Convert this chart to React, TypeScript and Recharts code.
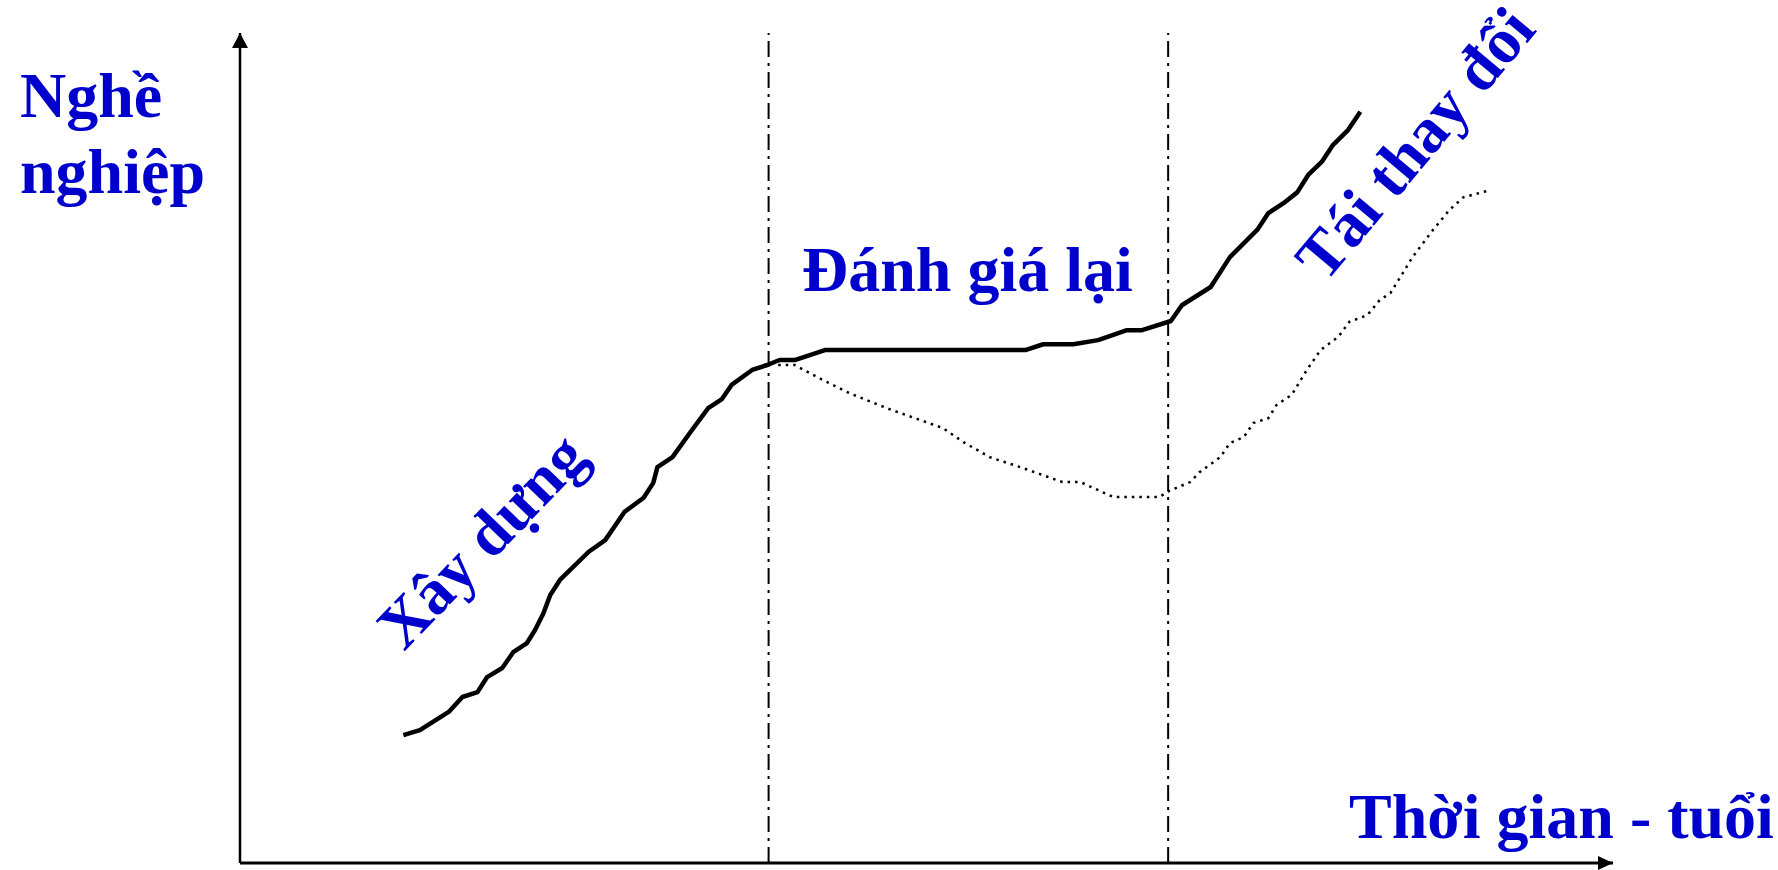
import { LineChart, Line, XAxis, YAxis, ReferenceLine, ReferenceDot } from "recharts";

// career path, "building" -> "re-evaluating" -> "re-changing"
const careerX = [
  11.9, 13.1, 15.2, 16.2, 17.3, 18.0, 19.1, 19.9, 20.9, 21.5, 22.1, 22.6, 23.3,
  25.4, 26.6, 28.0, 29.4, 30.1, 30.4, 31.5, 32.8, 34.1, 35.1, 35.8, 37.3, 38.4,
  39.3, 40.4, 42.6, 57.2, 58.5, 60.7, 62.5, 64.6, 65.7, 67.8, 68.6, 70.7, 72.1,
  74.1, 74.9, 76.0, 77.0, 77.8, 78.8, 79.6, 80.7, 81.6,
];
const careerY = [
  15.4, 16.0, 18.2, 20.0, 20.6, 22.4, 23.5, 25.4, 26.5, 28.1, 30.1, 32.3, 34.1,
  37.5, 38.9, 42.3, 44.0, 45.8, 47.7, 48.9, 51.9, 54.8, 55.9, 57.6, 59.4, 60.0,
  60.6, 60.6, 61.8, 61.8, 62.5, 62.5, 63.0, 64.2, 64.2, 65.3, 67.2, 69.4, 73.0,
  76.3, 78.3, 79.5, 80.8, 82.9, 84.5, 86.5, 88.3, 90.5,
];

// alternative path (dotted) after the first divider
const altX = [
  39.2, 40.4, 42.2, 44.4, 47.1, 51.2, 52.7, 54.6, 57.0, 59.9, 61.2, 63.6, 67.0,
  67.5, 69.2, 69.9, 71.4, 72.1, 73.1, 73.8, 74.9, 75.5, 76.6, 77.7, 78.7, 80.0,
  80.8, 82.1, 83.0, 83.8, 84.7, 85.4, 86.9, 88.1, 89.1, 90.9,
];
const altY = [
  60.0, 60.0, 58.4, 56.6, 54.8, 52.4, 50.7, 48.9, 47.6, 45.9, 45.9, 44.1, 44.1,
  44.7, 45.9, 47.1, 48.9, 50.6, 51.3, 53.0, 53.6, 55.2, 56.4, 59.4, 61.8, 63.4,
  65.2, 66.0, 67.8, 68.7, 71.1, 73.0, 76.3, 78.7, 80.2, 81.0,
];

const stageDividers = [38.5, 67.6];

const careerData = careerX.map((x, i) => ({ x, y: careerY[i] }));
const altData = altX.map((x, i) => ({ x, y: altY[i] }));

const blue = "#0000CC";
const font = "'Liberation Serif', 'Times New Roman', serif";

function ArrowUp(props: any) {
  const { cx, cy } = props;
  return <path d={`M${cx},${cy} L${cx - 8},${cy + 15} L${cx + 8},${cy + 15} Z`} fill="#000" />;
}

function ArrowRight(props: any) {
  const { cx, cy } = props;
  return <path d={`M${cx},${cy} L${cx - 15},${cy - 7} L${cx - 15},${cy + 7} Z`} fill="#000" />;
}

export default function App() {
  const textStyle = { fontFamily: font, fontWeight: 700, fontSize: 64, fill: blue };
  return (
    <div style={{ position: "absolute", left: 0, top: 0, width: 1778, height: 870, background: "#fff" }}>
      <LineChart width={1778} height={870} margin={{ top: 33, right: 165, bottom: 7, left: 240 }}>
        <XAxis type="number" dataKey="x" domain={[0, 100]} hide allowDataOverflow />
        <YAxis type="number" dataKey="y" domain={[0, 100]} hide allowDataOverflow />
        {stageDividers.map((d) => (
          <ReferenceLine key={d} x={d} stroke="#000" strokeWidth={2} strokeDasharray="16 6 3 6" />
        ))}
        <ReferenceLine x={0} stroke="#000" strokeWidth={2.5} />
        <ReferenceLine y={0} stroke="#000" strokeWidth={3} />
        <ReferenceDot x={0} y={100} r={0} shape={ArrowUp} ifOverflow="visible" />
        <ReferenceDot x={100} y={0} r={0} shape={ArrowRight} ifOverflow="visible" />
        <Line
          data={altData}
          dataKey="y"
          type="linear"
          stroke="#000"
          strokeWidth={2.5}
          strokeDasharray="2.5 5"
          dot={false}
          isAnimationActive={false}
        />
        <Line
          data={careerData}
          dataKey="y"
          type="linear"
          stroke="#000"
          strokeWidth={4.5}
          strokeLinejoin="round"
          dot={false}
          isAnimationActive={false}
        />
      </LineChart>
      <svg width={1778} height={870} style={{ position: "absolute", left: 0, top: 0, pointerEvents: "none" }}>
        <text x={20} y={117} style={textStyle}>Nghề</text>
        <text x={20} y={193} style={textStyle}>nghiệp</text>
        <text x={802} y={291} style={textStyle}>Đánh giá lại</text>
        <text x={1349} y={838} style={textStyle}>Thời gian - tuổi</text>
        <text x={404} y={652} style={textStyle} transform="rotate(-46 404 652)">Xây dựng</text>
        <text x={1325} y={284} style={textStyle} transform="rotate(-50 1325 284)">Tái thay đổi</text>
      </svg>
    </div>
  );
}
